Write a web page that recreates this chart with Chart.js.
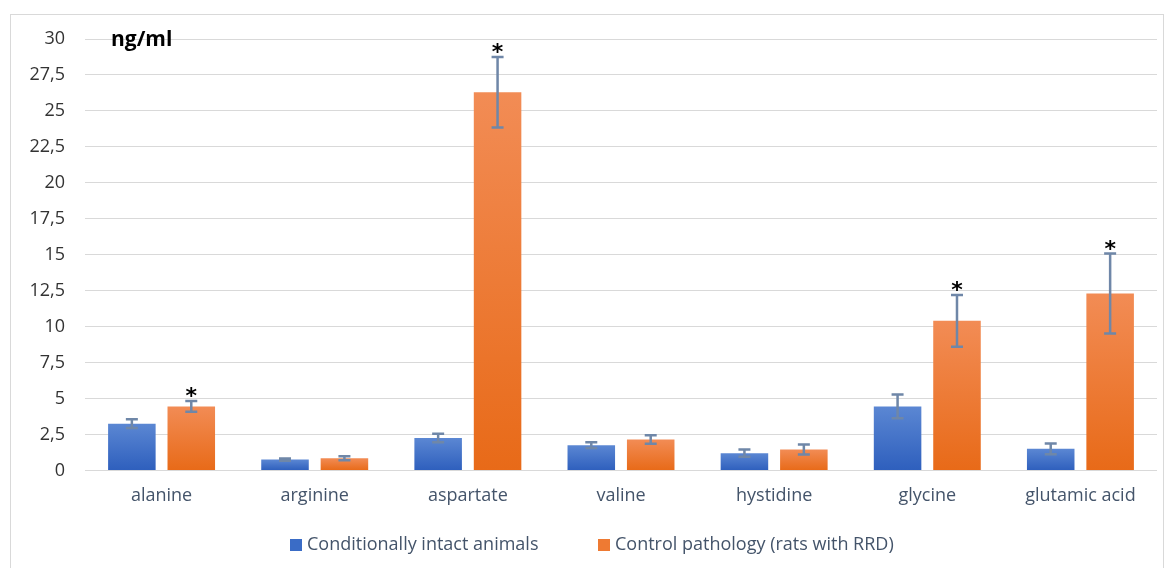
<!DOCTYPE html>
<html>
<head>
<meta charset="utf-8">
<script src="https://cdn.jsdelivr.net/npm/chart.js@4"></script>
<style>
  html, body { margin: 0; padding: 0; background: #ffffff; }
  #wrap { position: relative; width: 1170px; height: 568px; }
  #frame { position: absolute; left: 10px; top: 14px; width: 1154px; height: 560px; border: 1px solid #d9d9d9; box-sizing: border-box; }
  canvas { position: absolute; left: 0; top: 0; }
</style>
</head>
<body>
<div id="wrap">
  <div id="frame"></div>
  <canvas id="c" width="1170" height="568"></canvas>
</div>
<script>
const categories = ['alanine', 'arginine', 'aspartate', 'valine', 'hystidine', 'glycine', 'glutamic acid'];
const seriesNames = ['Conditionally intact animals', 'Control pathology (rats with RRD)'];
const intactValues = [3.25, 0.75, 2.25, 1.75, 1.2, 4.45, 1.5];
const intactErrors = [0.3, 0.08, 0.3, 0.2, 0.25, 0.83, 0.37];
const pathologyValues = [4.45, 0.85, 26.3, 2.15, 1.45, 10.4, 12.3];
const pathologyErrors = [0.37, 0.14, 2.45, 0.3, 0.35, 1.8, 2.78];
const significant = [true, false, true, false, false, true, true];
const yTicks = [0, 2.5, 5, 7.5, 10, 12.5, 15, 17.5, 20, 22.5, 25, 27.5, 30];
const unitLabel = 'ng/ml';
const legendColors = ['#3a6cc6', '#ee7a33'];

const FONT = '"Open Sans"';

function barGradient(ctx, light, dark) {
  const chart = ctx.chart;
  const ys = chart.scales && chart.scales.y;
  if (!ys || ctx.type !== 'data') return dark;
  const v = ctx.raw;
  const top = ys.getPixelForValue(v);
  const base = ys.getPixelForValue(0);
  if (!isFinite(top) || !isFinite(base) || top === base) return dark;
  const g = chart.ctx.createLinearGradient(0, top, 0, base);
  g.addColorStop(0, light);
  g.addColorStop(1, dark);
  return g;
}

const errorBarPlugin = {
  id: 'errorBars',
  afterDatasetsDraw(chart) {
    const ctx = chart.ctx;
    const ys = chart.scales.y;
    const errs = [intactErrors, pathologyErrors];
    ctx.save();
    ctx.strokeStyle = '#6f87a8';
    ctx.lineWidth = 2.5;
    chart.data.datasets.forEach((ds, di) => {
      const meta = chart.getDatasetMeta(di);
      meta.data.forEach((bar, i) => {
        const v = ds.data[i];
        const e = errs[di][i];
        const x = bar.x;
        const yHi = ys.getPixelForValue(v + e);
        const yLo = ys.getPixelForValue(v - e);
        ctx.beginPath();
        ctx.moveTo(x, yHi); ctx.lineTo(x, yLo);
        ctx.moveTo(x - 6, yHi); ctx.lineTo(x + 6, yHi);
        ctx.moveTo(x - 6, yLo); ctx.lineTo(x + 6, yLo);
        ctx.stroke();
        if (di === 1 && significant[i]) {
          ctx.fillStyle = '#000000';
          ctx.font = 'bold 22px "DejaVu Sans"';
          ctx.textAlign = 'center';
          ctx.textBaseline = 'alphabetic';
          const m = ctx.measureText('*');
          const a = m.actualBoundingBoxAscent, d = m.actualBoundingBoxDescent;
          const target = yHi - 9;
          ctx.fillText('*', x, target + (a - d) / 2);
        }
      });
    });
    // unit label
    ctx.fillStyle = '#000000';
    ctx.font = 'bold 21px ' + FONT;
    ctx.textAlign = 'left';
    ctx.textBaseline = 'middle';
    ctx.fillText(unitLabel, 111, 40);

    // legend
    ctx.font = '18px ' + FONT;
    ctx.textBaseline = 'middle';
    const legendX = [290, 598];
    const legendY = 545;
    seriesNames.forEach((name, i) => {
      ctx.fillStyle = legendColors[i];
      ctx.fillRect(legendX[i], legendY - 6, 12, 12);
      ctx.fillStyle = '#44546a';
      ctx.fillText(name, legendX[i] + 17, legendY);
    });
    ctx.restore();
  }
};

new Chart(document.getElementById('c'), {
  type: 'bar',
  data: {
    labels: categories,
    datasets: [
      {
        label: seriesNames[0],
        data: intactValues,
        backgroundColor: (ctx) => barGradient(ctx, '#5b87d3', '#2e5fbd'),
        borderWidth: 0,
        barPercentage: 0.8,
        categoryPercentage: 0.776
      },
      {
        label: seriesNames[1],
        data: pathologyValues,
        backgroundColor: (ctx) => barGradient(ctx, '#f28c55', '#e86a18'),
        borderWidth: 0,
        barPercentage: 0.8,
        categoryPercentage: 0.776
      }
    ]
  },
  options: {
    responsive: false,
    animation: false,
    devicePixelRatio: 1,
    layout: { padding: { top: 39, left: 0, right: 13, bottom: 46 } },
    plugins: {
      legend: { display: false },
      tooltip: { enabled: false }
    },
    scales: {
      x: {
        grid: { display: false, drawTicks: false },
        border: { display: false },
        ticks: { color: '#44546a', font: { family: 'Open Sans', size: 18 }, padding: 15 }
      },
      y: {
        min: 0,
        max: 30,
        afterFit(scale) { scale.width = 85; },
        afterBuildTicks(scale) { scale.ticks = yTicks.map(v => ({ value: v })); },
        grid: { color: '#d9d9d9', lineWidth: 1, drawTicks: false },
        border: { display: false },
        ticks: {
          color: '#333333',
          font: { family: 'Open Sans', size: 18 },
          padding: 20,
          callback: (v) => String(v).replace('.', ',')
        }
      }
    }
  },
  plugins: [errorBarPlugin]
});
</script>
</body>
</html>
